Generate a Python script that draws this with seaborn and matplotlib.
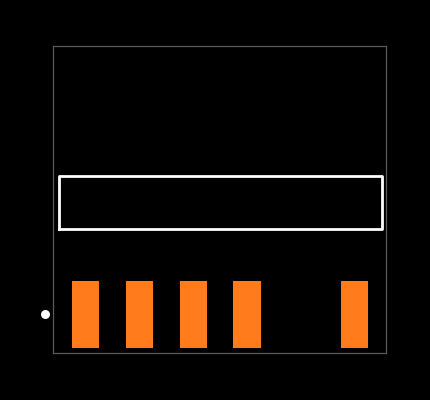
import matplotlib
matplotlib.use("Agg")
import matplotlib.pyplot as plt
import seaborn as sns
import pandas as pd

pad_positions = [0, 1, 2, 3, 5]
pad_heights = [1.247, 1.247, 1.247, 1.247, 1.247]
pad_bottom = 0.093
outline_x = [-0.493, 5.516, 5.516, -0.493, -0.493]
outline_y = [2.307, 2.307, 3.293, 3.293, 2.307]
marker_x = [-0.768]
marker_y = [0.726]

W, H = 430, 400
fig = plt.figure(figsize=(W / 100, H / 100), dpi=100, facecolor="black")
left, right, top, bottom = 53.0, 386.0, 46.0, 352.5
ax = fig.add_axes([left / W, 1 - bottom / H, (right - left) / W, (bottom - top) / H])
ax.set_facecolor("black")

pads = pd.DataFrame({"pos": pad_positions, "h": pad_heights})
sns.barplot(data=pads, x="pos", y="h", native_scale=True, width=0.505, color="#ff7b1c",
            saturation=1, bottom=pad_bottom, linewidth=0, ax=ax)

outline = pd.DataFrame({"x": outline_x, "y": outline_y})
sns.lineplot(data=outline, x="x", y="y", sort=False, estimator=None, color="white",
             linewidth=2.0, ax=ax)
ax.lines[-1].set_solid_joinstyle("round")

sns.scatterplot(x=marker_x, y=marker_y, color="white", s=42, linewidth=0, clip_on=False, ax=ax)

ax.set_xlim(-0.61, 5.585)
ax.set_ylim(0.015, 5.715)
ax.set_xticks([])
ax.set_yticks([])
ax.set_xlabel("")
ax.set_ylabel("")
for s in ax.spines.values():
    s.set_visible(True)
    s.set_color("#5a5a5a")
    s.set_linewidth(0.9)

fig.savefig("out.png", dpi=100, facecolor="black")
